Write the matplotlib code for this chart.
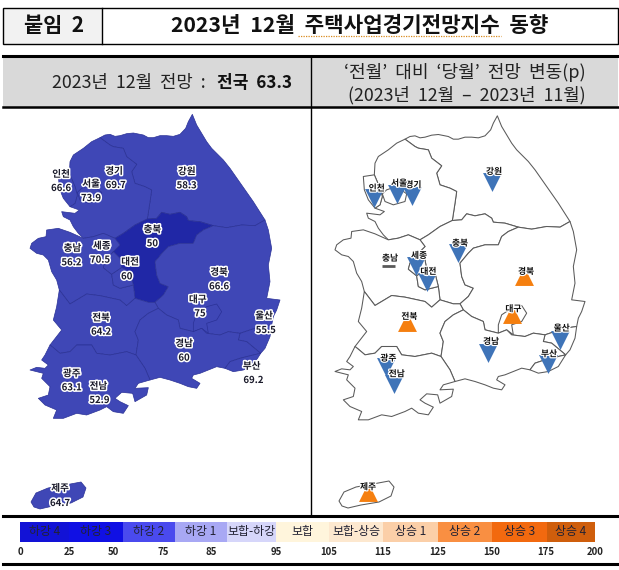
import matplotlib.pyplot as plt
import matplotlib.patheffects as pe
from matplotlib.patches import Polygon, Rectangle
import numpy as np

plt.rcParams['font.family'] = ['Noto Sans CJK KR', 'DejaVu Sans']

# chart values
regions = ['강원', '경기', '서울', '인천', '충북', '충남', '세종', '대전', '경북', '대구',
           '울산', '전북', '경남', '부산', '광주', '전남', '제주']
forecast = [58.3, 69.7, 73.9, 66.6, 50, 56.2, 70.5, 60, 66.6, 75,
            55.5, 64.2, 60, 69.2, 63.1, 52.9, 64.7]
# -1 down, 0 same, 1 up
change_dir = [-1, -1, -1, -1, -1, 0, -1, -1, 1, 1,
              -1, 1, -1, -1, -1, -1, 1]

legend_names = ['하강 4', '하강 3', '하강 2', '하강 1', '보합-하강', '보합', '보합-상승',
                '상승 1', '상승 2', '상승 3', '상승 4']
legend_ticks = ['0', '25', '50', '75', '85', '95', '105', '115', '125', '150', '175', '200']

# layout (pixels)
legend_edges = [20, 69, 123, 175, 227, 276, 329, 383, 438, 492, 547, 595]
legend_tick_x = [20, 69, 113, 163, 211, 276, 329, 383, 438, 492, 546, 595]
legend_colors = ['#1212D6', '#1010E4', '#4A4AEE', '#A8A8F4', '#D6D6FA', '#FFF5DC',
                 '#FDE8CF', '#FBCFA8', '#F98F42', '#F2690F', '#CF5E0C']

# outlines, measured on a 3x grid whose origin is pixel (20, 105)
gw_north = [(240, 98), (255, 90), (270, 88), (285, 94), (300, 92), (320, 86), (340, 84), (370, 90), (385, 98), (400, 98), (420, 92), (440, 92), (460, 94), (480, 88), (497, 70), (505, 50), (517, 28)]
gw_east = [(530, 60), (560, 110), (575, 130), (610, 165), (630, 190), (665, 240), (700, 290), (735, 345)]
gw_gb = [(735, 345), (705, 362), (665, 360), (620, 368), (580, 362)]
gw_cb = [(580, 362), (540, 350), (505, 347), (500, 335), (480, 322), (450, 328), (425, 322), (410, 340), (382, 342)]
gw_gg = [(382, 342), (390, 290), (395, 255), (375, 245), (345, 235), (335, 200), (350, 178), (320, 155), (310, 130), (280, 125), (270, 120), (240, 98)]
gg_coast1 = [(240, 98), (215, 110), (190, 130), (160, 150), (150, 170), (148, 205)]
gg_in = [(148, 205), (165, 245), (172, 270), (165, 295), (150, 305)]
in_coast = [(148, 205), (115, 210), (118, 250), (130, 280), (150, 305)]
gg_coast2 = [(150, 305), (178, 315), (165, 325), (125, 320), (130, 335), (150, 345), (160, 365), (175, 385), (190, 400)]
gg_cn = [(190, 400), (220, 395), (250, 385), (285, 400)]
gg_cb = [(285, 400), (310, 385), (345, 360), (382, 342)]
cn_coast = [(190, 400), (150, 382), (115, 370), (80, 375), (78, 395), (55, 400), (35, 415), (30, 430), (50, 445), (70, 450), (85, 465), (95, 500), (110, 525), (118, 555)]
cn_jb = [(118, 555), (150, 597), (200, 567), (240, 572), (300, 585), (320, 602), (345, 580)]
cn_east = [(285, 400), (300, 420), (280, 440), (255, 470), (250, 488), (275, 508), (280, 540), (300, 550), (340, 540), (345, 580)]
cb_west = [(285, 400), (300, 420), (280, 440), (300, 460), (305, 488), (330, 500), (340, 540), (345, 580)]
cb_gb = [(580, 362), (550, 375), (530, 390), (520, 415), (480, 415), (445, 425), (430, 440), (405, 470), (410, 510), (420, 535), (445, 545), (430, 570), (405, 592)]
cb_jb = [(345, 580), (385, 592), (405, 592)]
jb_gb = [(405, 592), (415, 610)]
jb_coast = [(118, 555), (110, 605), (100, 645), (125, 675), (90, 720)]
jb_jn = [(90, 720), (100, 728), (120, 745), (150, 740), (170, 720), (215, 720), (230, 745), (270, 750), (320, 740), (348, 750)]
jb_gn = [(348, 750), (355, 705), (345, 680), (360, 645), (385, 625), (415, 610)]
gb_gn = [(415, 610), (440, 630), (475, 645), (480, 670), (520, 680), (545, 670), (560, 685), (600, 690), (625, 680), (660, 685)]
gb_ul = [(660, 685), (690, 675), (720, 665), (755, 660)]
gb_coast = [(735, 345), (745, 375), (755, 430), (745, 480), (750, 530), (740, 580), (780, 585), (770, 615), (760, 635), (755, 660)]
ul_coast = [(755, 660), (750, 695), (735, 730), (722, 745)]
gn_ul = [(660, 685), (655, 705), (680, 710), (710, 735), (722, 745)]
gn_bs = [(722, 745), (700, 750), (660, 760), (630, 770), (615, 790)]
bs_coast = [(722, 745), (700, 780), (670, 795), (640, 800), (615, 790)]
gn_coast = [(615, 790), (590, 785), (565, 795), (540, 805), (520, 810), (515, 820), (540, 835), (530, 850), (505, 845), (480, 835), (450, 825), (420, 817), (390, 825)]
gn_jn = [(390, 825), (375, 790), (348, 750)]
jn_coast = [(390, 825), (355, 835), (345, 850), (385, 848), (380, 870), (345, 890), (338, 865), (305, 862), (285, 880), (300, 890), (325, 902),
            (310, 925), (280, 920), (260, 905), (240, 915), (200, 930), (170, 925), (130, 940), (100, 940), (110, 915), (75, 900), (55, 880), (85, 870),
            (90, 845), (65, 820), (70, 805), (30, 795), (50, 787), (75, 790), (85, 780), (65, 765), (75, 750), (90, 720)]

outlines = {
    '강원': gw_north + gw_east + gw_gb + gw_cb + gw_gg,
    '경기': gg_coast1 + gg_in + gg_coast2 + gg_cn + gg_cb + gw_gg,
    '서울': [(172, 262), (185, 250), (215, 240), (245, 262), (240, 285), (205, 295), (180, 285)],
    '인천': in_coast + gg_in[::-1],
    '충북': gg_cb + gw_cb[::-1] + cb_gb + cb_jb[::-1] + cb_west[::-1],
    '충남': cn_coast + cn_jb + cn_east[::-1] + gg_cn[::-1],
    '세종': [(280, 440), (300, 460), (305, 488), (275, 508), (250, 488), (255, 470)],
    '대전': [(275, 508), (305, 488), (330, 500), (340, 540), (300, 550), (280, 540)],
    '경북': gw_gb[::-1] + gb_coast + gb_ul[::-1] + gb_gn[::-1] + jb_gb[::-1] + cb_gb[::-1],
    '대구': [(520, 655), (530, 625), (560, 605), (590, 597), (605, 620), (590, 645), (560, 655), (565, 685), (545, 670), (520, 680)],
    '울산': gb_ul + ul_coast + gn_ul[::-1],
    '전북': cn_jb + cb_jb + jb_gb + jb_gn[::-1] + jb_jn[::-1] + jb_coast[::-1],
    '경남': gb_gn + gn_ul + gn_bs + gn_coast + gn_jn + jb_gn,
    '부산': bs_coast + gn_bs[::-1],
    '광주': [(140, 785), (150, 770), (180, 760), (205, 765), (220, 780), (200, 800), (165, 805), (145, 800)],
    '전남': jb_jn + gn_jn[::-1] + jn_coast,
}
# jeju is placed apart from the peninsula, in plain pixels
jeju = [(31, 502), (36, 493), (48, 488), (65, 485), (81, 482), (86, 488), (83, 497), (71, 503), (53, 506), (40, 509), (34, 507)]

# label spots on the same 3x grid: name, value
left_labels = {
    '강원': ((500, 199), (500, 241)), '경기': ((282, 198), (287, 240)), '서울': ((213, 236), (213, 279)),
    '인천': ((123, 207), (123, 249)), '충북': ((397, 373), (397, 415)), '충남': ((157, 429), (154, 472)),
    '세종': ((245, 422), (240, 464)), '대전': ((330, 470), (320, 514)), '경북': ((597, 501), (597, 544)),
    '대구': ((533, 583), (540, 625)), '울산': ((732, 632), (737, 675)), '전북': ((243, 638), (243, 680)),
    '경남': ((492, 715), (492, 758)), '부산': ((695, 783), (700, 825)), '광주': ((155, 805), (155, 847)),
    '전남': ((235, 843), (238, 885)),
}
# marker centre and name spot for the right map
right_marks = {
    '강원': ((502, 231), (507, 200)), '경기': ((260, 273), (265, 240)), '서울': ((215, 268), (222, 235)),
    '인천': ((148, 280), (155, 250)), '충북': ((398, 445), (405, 415)), '충남': ((190, 483), (195, 460)),
    '세종': ((274, 484), (282, 452)), '대전': ((306, 532), (310, 500)), '경북': ((598, 514), (603, 500)),
    '대구': ((560, 626), (565, 612)), '울산': ((704, 704), (710, 670)), '전북': ((247, 650), (253, 635)),
    '경남': ((490, 744), (498, 710)), '부산': ((668, 778), (672, 747)), '광주': ((182, 787), (190, 760)),
    '전남': ((208, 836), (215, 807)),
}


def px(pt, dx=0, dy=0):
    return 20 + pt[0] / 3 + dx, 105 + pt[1] / 3 + dy


def shape(pts, dx=0, dy=0):
    return [px(p, dx, dy) for p in pts]


def halo(width=2.2):
    return [pe.withStroke(linewidth=width, foreground='white')]


fig = plt.figure(figsize=(6.19, 5.70), dpi=100)
ax = fig.add_axes([0, 0, 1, 1])
ax.set_xlim(0, 619)
ax.set_ylim(570, 0)
ax.axis('off')

# title box
ax.add_patch(Rectangle((3, 8), 99, 36, fc='#F2F2F2', ec='none'))
ax.add_patch(Rectangle((3, 8), 615, 36, fc='none', ec='black', lw=1.0))
ax.plot([102, 102], [8, 44], color='black', lw=1.0)
ax.text(54, 26, '붙임  2', fontsize=15, fontweight='bold', ha='center', va='center', color='#111111')
ax.text(360, 26, '2023년  12월  주택사업경기전망지수  동향', fontsize=15.3, fontweight='bold',
        ha='center', va='center', color='#111111')
ax.plot([298, 501], [35.5, 35.5], color='#D98A1E', lw=0.9, ls=(0, (1, 1)))

# header band
ax.add_patch(Rectangle((3, 56), 615, 51, fc='#D9D9D9', ec='none'))
ax.plot([3, 618], [56, 56], color='black', lw=2.2)
ax.plot([3, 618], [107, 107], color='black', lw=1.8)
ax.plot([311, 311], [56, 516], color='black', lw=1.0)
ax.text(52, 83, '2023년  12월  전망  :', fontsize=12.8, ha='left', va='center', color='#222222')
ax.text(292, 83, '전국  63.3', fontsize=12.3, fontweight='bold', ha='right', va='center', color='#111111')
ax.text(586, 72, '‘전월’  대비  ‘당월’  전망  변동(p)', fontsize=13, ha='right', va='center', color='#222222')
ax.text(586, 95, '(2023년  12월  –  2023년  11월)', fontsize=12.8, ha='right', va='center', color='#222222')

# left map
fill_bins = np.digitize(forecast, [50.01])
for name, value, b in zip(regions, forecast, fill_bins):
    color = '#2027A6' if b == 0 else '#3F47B6'
    if name == '제주':
        pts = jeju
    else:
        pts = shape(outlines[name])
    ax.add_patch(Polygon(pts, closed=True, fc=color, ec='#2A3196', lw=0.5, joinstyle='round'))

for name, value in zip(regions, forecast):
    if name == '제주':
        spot_a, spot_b = (60, 488), (60, 503)
    else:
        spot_a, spot_b = px(left_labels[name][0]), px(left_labels[name][1])
    for spot, s in ((spot_a, name), (spot_b, f'{value:g}')):
        ax.text(spot[0], spot[1], s, fontsize=6.9, fontweight='bold', ha='center', va='center',
                color='#1A1A2A', path_effects=halo(), zorder=5)

# right map
for name in regions:
    if name == '제주':
        pts = [(x + 308, y - 1) for x, y in jeju]
    else:
        pts = shape(outlines[name], 305, 1.5)
    ax.add_patch(Polygon(pts, closed=True, fc='white', ec='#5A5A5A', lw=0.75, joinstyle='round'))

for name, d in zip(regions, change_dir):
    if name == '제주':
        mark, spot = (367.5, 492), (368, 487)
    else:
        mark = px(right_marks[name][0], 305, 0)
        spot = px(right_marks[name][1], 305, 0)
    if d < 0:
        ax.scatter(*mark, marker='v', s=185, color='#3F74B8', linewidths=0, zorder=4)
    elif d > 0:
        ax.scatter(*mark, marker='^', s=185, color='#F57F0F', linewidths=0, zorder=4)
    else:
        ax.plot([mark[0] - 6.5, mark[0] + 6.5], [mark[1], mark[1]], color='#595959', lw=2, zorder=4,
                solid_capstyle='butt')
    ax.text(spot[0], spot[1], name, fontsize=6.3, fontweight='bold', ha='center', va='center',
            color='#111111', path_effects=halo(1.8), zorder=5)

# legend
ax.plot([3, 618], [516, 516], color='black', lw=2.2)
ax.plot([3, 618], [564, 564], color='black', lw=2.2)
widths = np.diff(legend_edges)
ax.bar(legend_edges[:-1], 20, width=widths, bottom=522, align='edge', color=legend_colors, linewidth=0)
for left, w, s in zip(legend_edges[:-1], widths, legend_names):
    ax.text(left + w / 2, 532, s, fontsize=8.6, ha='center', va='center', color='#222233')
for x, s in zip(legend_tick_x, legend_ticks):
    ax.text(x, 552, s, fontsize=6.9, fontweight='bold', ha='center', va='center', color='#222222')

plt.savefig('out.png', dpi=100)
